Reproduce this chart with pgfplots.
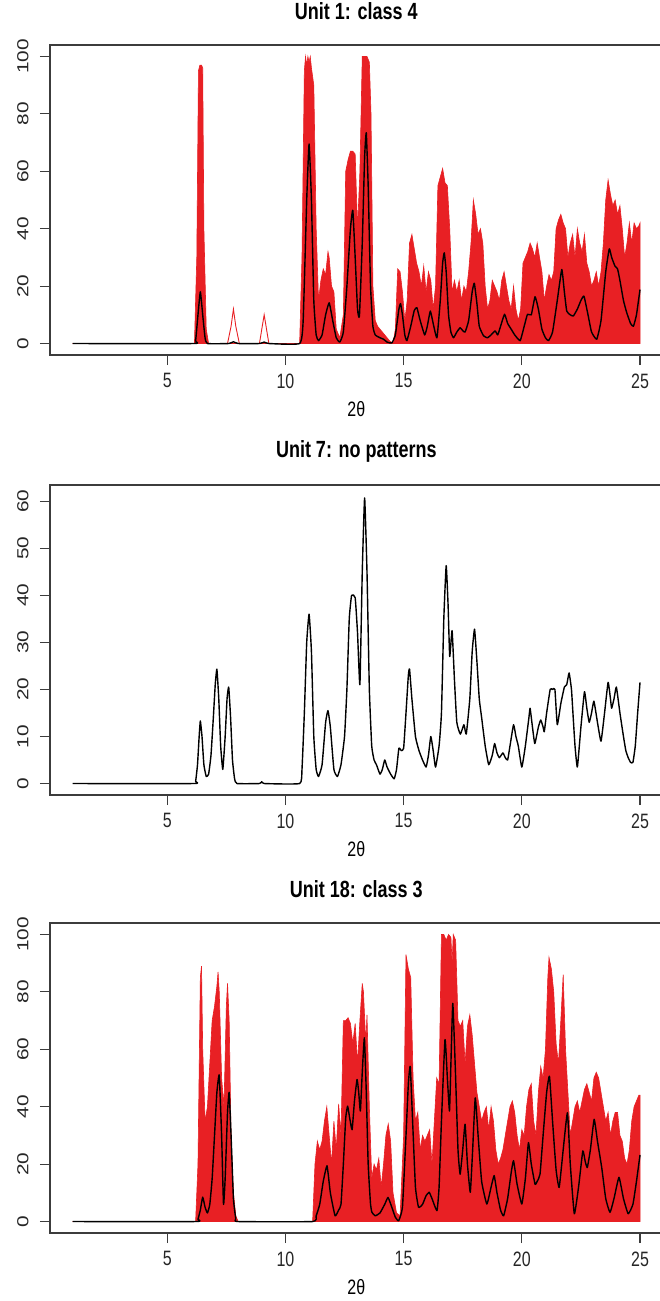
\documentclass[border=0pt]{standalone}
\usepackage{fontspec}
\setmainfont{Liberation Sans}
\usepackage{graphicx}
\usepackage{pgfplots}
\pgfplotsset{compat=1.18}
\usepackage{pgfplotstable}
\definecolor{rred}{RGB}{232,32,36}
\definecolor{frame}{RGB}{60,60,60}

% ---------- Panel 1 ----------
\pgfplotstableread{
x y
1 0
6.15 0
6.25 30
6.32 95
6.38 97
6.45 97
6.5 96
6.55 40
6.65 5
6.75 0
10.6 0
10.7 30
10.8 95
10.85 100
10.9 97
10.95 100
11.0 98
11.05 100
11.1 96
11.2 90
11.3 40
11.4 15
11.5 22
11.6 26
11.7 24
11.8 32
11.85 30
11.95 20
12.05 18
12.15 5
12.3 2
12.45 10
12.55 60
12.65 64
12.75 67
12.85 67
12.95 66
13.05 40
13.15 60
13.25 100
13.35 100
13.45 100
13.55 98
13.62 80
13.7 20
13.8 8
13.9 6
14.0 5
14.1 4
14.2 3
14.4 1
14.55 0
14.65 5
14.75 26
14.85 25
14.95 18
15.05 8
15.15 15
15.25 35
15.35 38
15.45 33
15.55 28
15.65 25
15.75 20
15.85 27
15.95 18
16.05 25
16.15 22
16.25 12
16.35 20
16.45 55
16.55 58
16.65 61
16.75 56
16.85 55
16.95 40
17.05 18
17.15 22
17.25 18
17.35 22
17.45 15
17.55 20
17.65 18
17.75 25
17.85 35
17.95 50
18.05 45
18.15 38
18.25 40
18.35 35
18.45 20
18.55 12
18.65 15
18.75 22
18.85 20
18.95 18
19.05 15
19.15 22
19.25 25
19.35 20
19.45 15
19.55 12
19.65 20
19.75 12
19.85 8
19.95 12
20.05 28
20.15 30
20.25 32
20.35 35
20.45 33
20.55 30
20.65 35
20.75 30
20.85 25
20.95 15
21.05 20
21.15 24
21.25 22
21.35 25
21.45 40
21.55 43
21.65 45
21.75 42
21.85 40
21.95 30
22.05 35
22.15 38
22.25 30
22.35 40
22.45 35
22.55 32
22.65 38
22.75 28
22.85 25
22.95 20
23.05 22
23.15 25
23.25 20
23.35 25
23.45 35
23.55 50
23.65 57
23.75 52
23.85 48
23.95 50
24.05 45
24.15 48
24.25 40
24.35 30
24.45 35
24.55 42
24.65 35
24.75 42
24.85 40
24.95 41
25.0 42
25.0 0
}\redA

\pgfplotstableread{
x y
7.55 0
7.7 6
7.8 12
7.9 6
8.05 0
8.9 0
9.0 5
9.1 10
9.2 5
9.3 0
}\redAline

\pgfplotstableread{
x y
1 0
6.1 0
6.2 1
6.3 10
6.4 18
6.5 10
6.6 2
6.7 0
7.6 0
7.8 0.6
8.0 0
8.9 0
9.1 0.5
9.3 0
10.6 0
10.75 8
10.9 50
11.0 69.5
11.1 50
11.2 15
11.3 3
11.4 1
11.55 3
11.7 10
11.85 14.2
12.0 8
12.15 2
12.3 0.5
12.45 4
12.6 20
12.75 40
12.85 46.4
12.95 30
13.05 12
13.13 9.6
13.25 35
13.35 65
13.42 73.4
13.5 55
13.6 20
13.7 6
13.8 3
14.0 2
14.15 1.5
14.3 0.5
14.5 0.2
14.65 3
14.8 12
14.87 13.9
14.95 10
15.05 3
15.14 1
15.3 6
15.45 11.5
15.56 12.5
15.7 8
15.89 3
16.0 6
16.13 11.3
16.25 7
16.41 2
16.55 15
16.65 28
16.72 31.6
16.8 25
16.9 10
17.0 4
17.11 2
17.25 4
17.39 5.5
17.5 4.5
17.6 4
17.75 8
17.9 18
17.99 21
18.1 14
18.2 6
18.38 2.7
18.55 2
18.7 3
18.87 4.4
18.98 3
19.1 6
19.27 10.2
19.4 7
19.55 5
19.7 3
19.93 1
20.1 6
20.24 10.2
20.4 10
20.56 16.3
20.7 12
20.85 5
21.0 2
21.13 1
21.3 4
21.5 15
21.69 25.8
21.8 18
21.9 11.3
22.05 10
22.18 9.6
22.35 12
22.5 15
22.63 16.5
22.8 10
22.95 4
23.17 1.5
23.35 8
23.55 25
23.7 33
23.8 30
23.94 27
24.05 26
24.15 22
24.3 15
24.44 10.7
24.6 7
24.72 6
24.85 10
25.0 18.8
}\blackA

% ---------- Panel 2 ----------
\pgfplotstableread{
x y
1 0
6.1 0
6.2 0.5
6.28 4
6.35 10
6.4 13.3
6.47 10
6.55 4
6.65 1.5
6.75 2
6.85 6
6.95 14
7.03 21
7.1 24.3
7.18 18
7.26 8
7.35 3
7.45 10
7.53 18
7.6 20.5
7.68 14
7.76 5
7.85 1
7.95 0
8.9 0
9.0 0.4
9.1 0
10.6 0
10.7 3
10.8 15
10.9 30
11.0 36
11.1 28
11.2 10
11.3 3
11.4 1.5
11.55 4
11.7 13
11.8 15.5
11.9 12
12.05 3
12.2 1.5
12.35 4
12.5 10
12.6 20
12.7 35
12.8 40
12.95 39.5
13.05 32
13.15 21
13.25 45
13.35 60.7
13.45 45
13.55 20
13.65 8
13.75 5
13.85 4
14.0 2
14.1 3
14.2 5
14.3 3.5
14.45 2
14.6 1
14.7 3
14.8 7.5
14.9 7
15.0 7.5
15.1 15
15.2 23
15.25 24.3
15.35 18
15.5 10
15.65 7
15.8 5
15.95 3.5
16.05 6
16.15 10
16.25 7
16.35 3.5
16.5 8
16.6 15
16.7 35
16.8 46.3
16.88 38
16.95 27
17.05 32.5
17.15 22
17.25 13
17.4 10.5
17.55 12.5
17.65 10.5
17.8 18
17.9 28
18.0 32.8
18.1 26
18.2 18
18.3 14
18.45 8
18.6 4
18.75 6
18.85 8.5
18.95 6.5
19.05 5.5
19.2 6.5
19.3 5.5
19.4 5
19.5 8
19.65 12.5
19.75 10
19.85 8
20.0 3.5
20.15 8
20.3 14
20.35 16
20.45 12
20.55 8.5
20.7 12
20.8 13.5
20.9 12
20.95 11
21.05 15
21.2 20
21.3 20
21.4 20
21.5 12.5
21.65 17
21.8 20.5
21.9 21
22.0 23.5
22.1 20
22.15 16
22.25 8
22.35 3.5
22.5 12
22.65 19.5
22.75 16
22.85 13
22.95 15
23.05 17.5
23.2 13
23.35 9
23.5 15
23.65 21.5
23.75 18
23.8 16
23.9 18
24.0 20.5
24.15 15
24.3 10
24.4 7
24.5 5.5
24.6 4.5
24.7 4.5
24.8 8
24.9 15
25.0 21.5
}\blackB

% ---------- Panel 3 ----------
\pgfplotstableread{
x y
1 0
6.2 0
6.3 20
6.4 85
6.45 89
6.5 60
6.6 35
6.7 40
6.8 55
6.9 70
7.0 75
7.1 82
7.15 87
7.2 80
7.3 50
7.4 40
7.5 75
7.55 83
7.62 70
7.7 30
7.8 10
7.9 2
8.0 0
11.15 0
11.25 20
11.35 28
11.45 25
11.55 28
11.65 35
11.75 40
11.85 30
11.95 20
12.05 35
12.15 25
12.25 41
12.35 30
12.45 70
12.55 70
12.65 71
12.75 69
12.85 62
12.95 69
13.05 55
13.15 70
13.25 83
13.3 80
13.4 62
13.45 72
13.55 40
13.65 15
13.75 20
13.85 18
13.95 22
14.05 12
14.15 20
14.25 30
14.35 34
14.45 28
14.55 10
14.7 3
14.85 2
15.0 30
15.1 93
15.2 88
15.3 85
15.4 50
15.5 35
15.6 38
15.7 25
15.8 30
15.9 28
16.0 30
16.1 32
16.2 20
16.3 35
16.4 50
16.5 48
16.6 100
16.7 100
16.8 98
16.9 100
17.0 99
17.05 90
17.1 100
17.2 98
17.3 70
17.4 68
17.5 70
17.6 55
17.7 68
17.8 72
17.9 65
18.0 55
18.1 45
18.2 40
18.3 35
18.4 38
18.5 40
18.6 32
18.7 40
18.8 35
18.9 25
19.0 20
19.1 22
19.2 25
19.3 30
19.4 35
19.5 40
19.6 42
19.7 38
19.8 30
19.9 25
20.0 32
20.1 30
20.2 40
20.3 46
20.4 48
20.5 35
20.6 30
20.7 45
20.8 54
20.9 50
21.0 60
21.1 85
21.15 92
21.25 88
21.35 80
21.45 62
21.55 55
21.65 70
21.75 86
21.85 60
21.95 45
22.05 30
22.15 35
22.25 40
22.35 42
22.45 38
22.55 42
22.65 46
22.75 48
22.85 45
22.95 42
23.05 50
23.15 52
23.25 50
23.35 45
23.45 40
23.55 35
23.65 38
23.75 30
23.85 35
23.95 38
24.05 38
24.15 30
24.25 28
24.35 22
24.45 20
24.55 25
24.65 35
24.75 40
24.85 42
24.95 44
25.0 44
25.0 0
}\redC

\pgfplotstableread{
x y
1 0
6.2 0
6.3 0.8
6.4 4
6.5 8.5
6.6 5
6.7 3
6.8 6
6.9 15
7.0 30
7.1 45
7.2 51
7.3 30
7.38 6
7.45 15
7.55 38
7.62 45
7.7 30
7.8 8
7.9 1
8.0 0
11.15 0
11.3 2
11.45 6
11.6 14
11.76 19.4
11.9 10
12.1 2
12.25 4
12.35 6
12.45 20
12.55 36
12.63 40.2
12.72 36
12.82 32
12.92 42
13.03 49.5
13.1 45
13.17 38.5
13.25 52
13.34 64
13.42 45
13.5 20
13.6 6
13.66 3.2
13.8 2
14.0 3
14.2 6
14.34 8.4
14.5 5
14.65 1.5
14.79 0.3
14.95 5
15.1 30
15.2 48
15.28 54
15.38 35
15.5 12
15.63 5
15.8 6
15.95 9
16.08 10.2
16.2 8
16.41 3.8
16.5 12
16.6 35
16.75 63.4
16.85 50
16.94 38.5
17.0 55
17.08 76
17.18 55
17.3 25
17.39 16.5
17.5 25
17.6 33.9
17.7 20
17.82 10.2
17.92 25
18.03 43.1
18.15 30
18.3 14
18.52 6.1
18.7 12
18.83 16
18.95 10
19.1 4
19.23 2
19.4 8
19.55 17
19.65 21.2
19.8 13
20.0 6.1
20.15 15
20.28 27.5
20.4 20
20.56 13
20.65 14
20.77 16.5
20.9 30
21.05 45
21.17 50.6
21.3 35
21.45 18
21.58 11.9
21.75 25
21.93 37.9
22.05 20
22.22 2.7
22.4 12
22.58 24.6
22.68 21
22.77 18.8
22.9 25
23.06 35.6
23.2 28
23.38 18.8
23.55 8
23.73 3.2
23.9 8
24.11 15.4
24.3 8
24.5 2.7
24.7 6
24.85 14
25.0 23.2
}\blackC

\pgfplotsset{
  rstyle/.style={
    scale only axis, width=612.7pt, height=310pt,
    xmin=0.04, xmax=25.96,
    xtick={5,10,15,20,25},
    axis line style={line width=1.1pt, frame},
    every tick/.style={line width=1.1pt, frame},
    tick align=outside, major tick length=10pt,
    xtick pos=bottom, ytick pos=left,
    /pgf/number format/assume math mode=true,
    tick label style={font=\fontsize{16}{16}\selectfont, text=black!85},
    yticklabel={\scalebox{1.3}[1]{\pgfmathprintnumber{\tick}}},
    xticklabel={\scalebox{1}[1.3]{\pgfmathprintnumber{\tick}}},
    yticklabel style={xshift=-8pt, rotate=90, anchor=south},
    xticklabel style={yshift=-5pt},
    xlabel={\scalebox{1}[1.3]{2θ}},
    xlabel style={font=\fontsize{16}{16}\selectfont, at={(0.5,0)}, anchor=center, yshift=-54pt},
    title style={font=\bfseries\fontsize{18}{18}\selectfont, at={(0.5,1)}, anchor=center, yshift=28pt},
  },
  redfill/.style={draw=rred, fill=rred, line width=0.6pt},
  blk/.style={black, line width=1.4pt, line join=round, smooth, tension=0.25},
}

\begin{document}
\begin{tikzpicture}
\path[use as bounding box] (0,0) rectangle (660pt,-1301pt);

\begin{axis}[rstyle, at={(50pt,-355pt)}, anchor=south west,
  ymin=-4, ymax=104, ytick={0,20,40,60,80,100},
  title={\scalebox{1}[1.3]{Unit 1: class 4}}]
\addplot[redfill] table {\redA} \closedcycle;
\addplot[draw=rred, line width=0.9pt] table {\redAline};
\addplot[blk] table {\blackA};
\end{axis}

\begin{axis}[rstyle, at={(50pt,-795pt)}, anchor=south west,
  ymin=-2.44, ymax=63.44, ytick={0,10,20,30,40,50,60},
  title={\scalebox{1}[1.3]{Unit 7: no patterns}}]
\addplot[blk] table {\blackB};
\end{axis}

\begin{axis}[rstyle, at={(50pt,-1233pt)}, anchor=south west,
  ymin=-4, ymax=104, ytick={0,20,40,60,80,100},
  title={\scalebox{1}[1.3]{Unit 18: class 3}}]
\addplot[redfill] table {\redC} \closedcycle;
\addplot[blk] table {\blackC};
\end{axis}
\end{tikzpicture}
\end{document}
